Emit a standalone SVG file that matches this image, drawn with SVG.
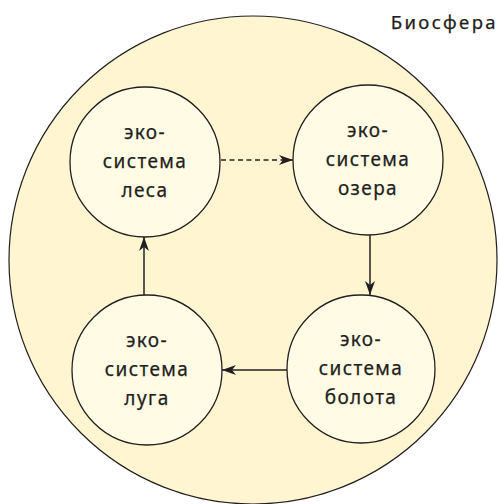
<svg xmlns="http://www.w3.org/2000/svg" width="499" height="504" viewBox="0 0 499 504">
<style>
.big{fill:#fff6d1;stroke:#231f20;stroke-width:1.2}
.eco{fill:#fffbe4;stroke:#231f20;stroke-width:1.3}
.t{font-family:"Noto Sans",sans-serif;font-size:19px;fill:#231f20;text-anchor:middle;letter-spacing:1.4px;stroke:#231f20;stroke-width:0.25}
.c{stroke:#231f20;stroke-width:1.5;fill:none}
</style>
<defs>
<marker id="ah" viewBox="0 0 14 10" refX="14" refY="5" markerWidth="14" markerHeight="10" markerUnits="userSpaceOnUse" orient="auto">
<path d="M0,0 L14,5 L0,10 L4,5 Z" fill="#231f20"/>
</marker>
</defs>
<g id="biosphere">
<circle class="big" cx="253" cy="260" r="244"/>
<text x="498" y="29" class="t" style="font-size:18.5px;letter-spacing:2.4px;text-anchor:end">Биосфера</text>
</g>
<g id="forest">
<circle class="eco" cx="145" cy="162" r="75"/>
<text class="t" x="145" y="139">эко-</text>
<text class="t" x="145" y="168">система</text>
<text class="t" x="145" y="197">леса</text>
</g>
<g id="lake">
<circle class="eco" cx="368" cy="160" r="75"/>
<text class="t" x="368" y="137">эко-</text>
<text class="t" x="368" y="166">система</text>
<text class="t" x="368" y="195">озера</text>
</g>
<g id="swamp">
<circle class="eco" cx="361" cy="369" r="74"/>
<text class="t" x="361" y="346">эко-</text>
<text class="t" x="361" y="375">система</text>
<text class="t" x="361" y="404">болота</text>
</g>
<g id="meadow">
<circle class="eco" cx="147" cy="370" r="75"/>
<text class="t" x="147" y="347">эко-</text>
<text class="t" x="147" y="376">система</text>
<text class="t" x="147" y="405">луга</text>
</g>
<g id="connectors">
<line class="c" x1="221" y1="160" x2="293" y2="160" stroke-dasharray="5,3.5" marker-end="url(#ah)"/>
<line class="c" x1="370" y1="235" x2="370" y2="295" marker-end="url(#ah)"/>
<line class="c" x1="287" y1="370" x2="222" y2="370" marker-end="url(#ah)"/>
<line class="c" x1="144" y1="295" x2="144" y2="237" marker-end="url(#ah)"/>
</g>
</svg>
